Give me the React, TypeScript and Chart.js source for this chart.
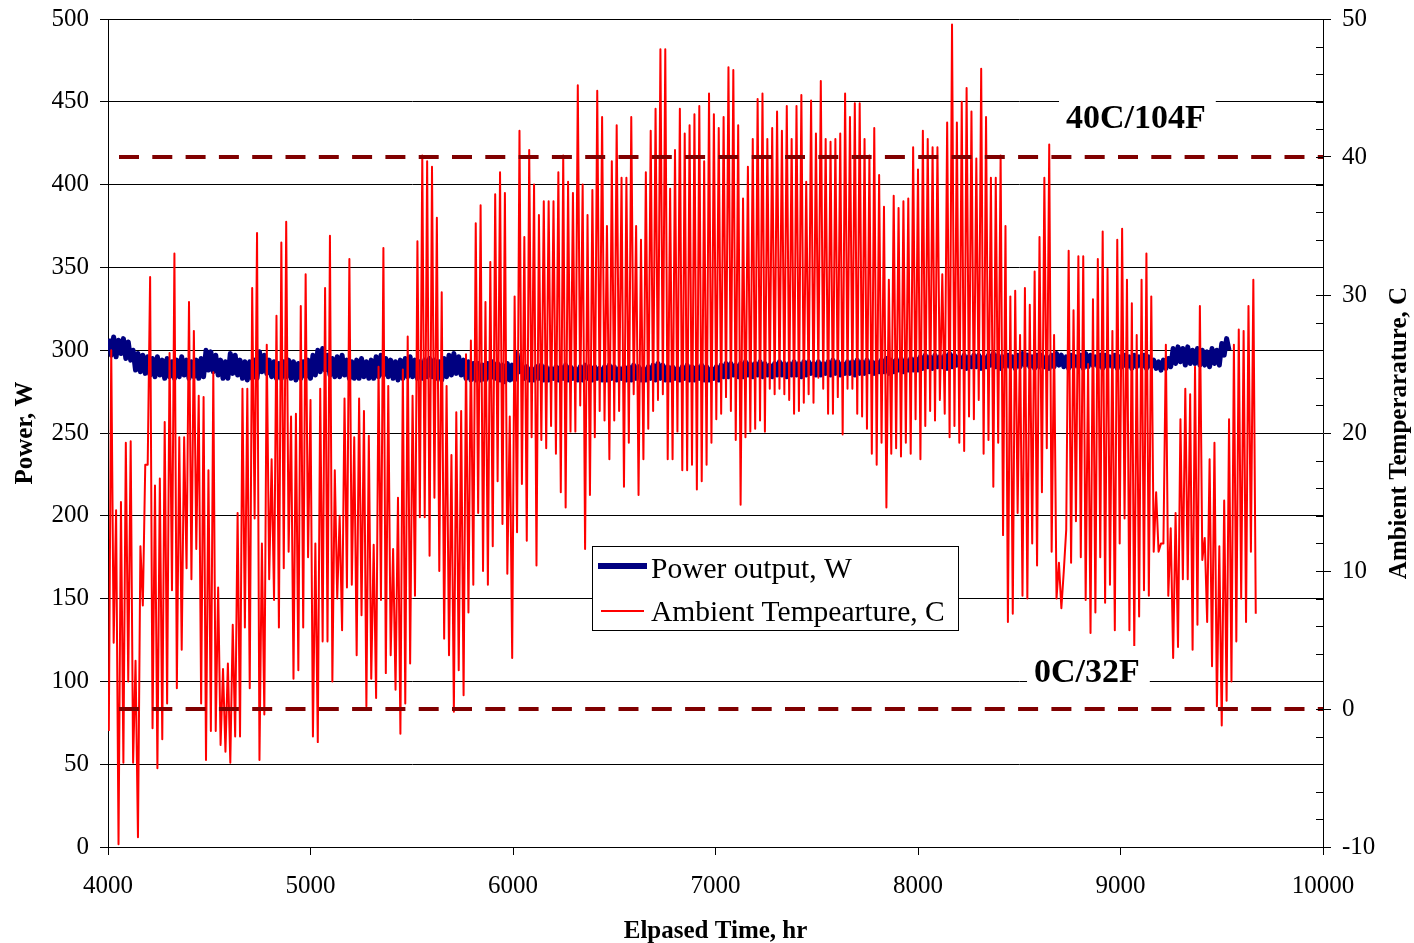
import React, { useEffect, useRef } from "react";
import { Chart, registerables } from "chart.js";

Chart.register(...registerables);

// ---------- data ----------
const xTickValues = [4000, 5000, 6000, 7000, 8000, 9000, 10000];
const powerTickStep = 50;
const tempTickStep = 10;
const startHour = 4000;

// daily minimum / maximum ambient temperature, C (one pair per day from 4000 hr)
const tempMin = [
  -1.6, 4.8, -9.8, -3.9, 2, -3.9, -9.3, 7.5, 17.7, -1.4,
  -4.3, -2.2, 0.4, 8.6, 1.5, 4.3, 10.2, 9.4, 11.6, 0.4,
  -3.7, -1.6, -1.6, -2.6, -3.1, -3.9, -2, -2, 5.9, 1.5,
  13.8, -3.7, -0.4, 9.4, 7.9, 5.9, 10.2, 11.4, 2.2, 2.8,
  5.9,
  11, -2, -2.4, 4.9, 4.9, 2, 8, 5.7, 8.8, 9,
  3.9, 6.8, 0.2, 2.2, 0.8, 7.9, 2.6, 3.9, 1.4, -1.8,
  0.4, 3.3, 8.2, 13.9, 13.9, 11.1, 15.3, 10, 5.1, 3.9,
  -0.2, 2.8, 1, 7, 9, 14.2, 10, 9, 11.8, 16.5,
  13.4,
  9.8, 3.7, 12.8, 16.3, 12.2, 19.7, 10.4, 19.5, 18.9, 20.5,
  18.5, 15.7, 14.6, 20.1, 20.1, 22, 11.6, 15.5, 19.7, 21.6,
  20.9, 18.1, 20.9, 21.6, 16.1, 19.3, 22.8, 15.5, 18.1, 20.3,
  21.6, 22.4, 22.8, 18.1, 18.1, 20.1, 17.3, 17.3, 17.7, 15.9,
  16.5,
  17.7, 19.3, 21, 21.4, 22.6, 21.6, 19.5, 14.8, 19.7, 20.1,
  20.3, 20.9, 20.1, 23.2, 22.8, 23.2, 22.8, 22.4, 21.4, 21.6,
  22.2, 22.8, 22.2, 24, 23.2, 21.4, 21.4, 22.6, 19.9, 23.2,
  23.2, 21.4, 21.2, 20.3, 18.5, 17.7, 19.3, 14.6, 18.5, 18.9,
  18.3,
  19.3, 18.5, 21, 18.1, 20.5, 21.6, 20.9, 22.4, 21.4, 19.7,
  20.5, 19.3, 18.7, 21.2, 21, 22.4, 18.5, 19.5, 16.1, 19.3,
  12.6, 6.3, 6.9, 14.2, 8.2, 8, 12, 10.4, 15.7, 18.9,
  11.4, 8, 7.3, 13, 10.6, 13.6, 11, 7.9, 5.5, 7,
  11,
  7.7, 9, 5.7, 12, 13.8, 5.7, 4.5, 6.7, 8.6, 8.2,
  11.4, 11.4, 12, 8.2, 3.7, 4.5, 9.4, 9.4, 4.3, 6.1,
  10.8, 6.3, 3.1, 0.2, -1.2, 0.6, 2, 4.9, 8, 6.3,
  11.4,
];
const tempMax = [
  26, 14.4, 15, 19.3, 19.4, 3.5, 11.8, 17.7, 31.3, 16.2,
  16.7, 20.8, 25.8, 33, 19.7, 19.7, 29.5, 27.4, 22.7, 22.6,
  17.3, 24.4, 8.8, 2.9, 3.3, 6.1, 14.2, 23.2, 23.2, 30.5,
  34.5, 12, 26.4, 18.1, 28.5, 33.8, 35.3, 21.2, 21.4, 29.2,
  31.5,
  22.4, 12, 23.2, 30.5, 34.3, 17.3, 14, 22.5, 32.6, 19.7,
  22.5, 21.6, 19.8, 11.9, 24.8, 33.4, 23.4, 11.6, 15.3, 24.6,
  27, 22.7, 33.9, 40.1, 39.7, 39.3, 35.6, 30.2, 23.4, 18.4,
  21.5, 21.6, 25.7, 26.7, 35.2, 36.5, 29.5, 32.4, 37.3, 38.9,
  37.4,
  21.2, 29.9, 41.9, 34.2, 40.5, 38, 35.8, 36.8, 36.8, 36.8,
  38.9, 40.1, 38.2, 37.4, 45.2, 38, 35.8, 37.6, 44.8, 42.9,
  35, 39.7, 42.3, 38.5, 38.5, 42.9, 35, 34, 38.9, 41.9,
  43.5, 47.8, 47.8, 37.7, 40.5, 43.5, 41.7, 42.3, 43.1, 43.7,
  39.7,
  44.6, 43.1, 42.1, 42.9, 46.5, 46.3, 42.3, 37, 39.3, 41.3,
  44.2, 44.6, 41.3, 42.1, 43.3, 41.9, 43.7, 41.3, 43.7, 44.5,
  38.2, 44.1, 41.7, 45.5, 41.3, 41.1, 41.3, 41.7, 44.6, 42.9,
  43.9, 43.9, 41.3, 40.1, 42.1, 38.7, 36.4, 31.1, 37.2, 36.3,
  36.8,
  37, 40.7, 39.1, 41.9, 41.3, 40.7, 40.7, 31.5, 42.5, 49.6,
  42.5, 44, 45, 43.3, 39.9, 46.4, 42.9, 38.5, 38.5, 40.1,
  35, 29.9, 30.3, 27.1, 30.5, 29.3, 31.7, 34.2, 38.5, 40.9,
  27.1, 10.6, 10, 33.2, 28.9, 32.8, 32.8, 25, 29.7, 32.6,
  34.6,
  31.9, 27.4, 34, 34.8, 31.1, 29.4, 27.1, 31.1, 33, 29.9,
  15.7, 12, 26.4, 13.1, 14.2, 21, 23.2, 22.8, 24.8, 29.2,
  12.4, 18.1, 19.3, 11.8, 15.1, 21, 26.4, 27.5, 27.4, 29.2,
  31.1,
];
const tempLast = 6.9;

// daily high / low of the power output, W (one pair per day from 4000 hr)
const powerHi = [
  307, 308, 306, 307, 305,
  300, 298, 297, 296,
  295, 296, 294, 295, 293, 294, 296, 294, 293, 294, 295,
  300, 299, 297,
  294, 293, 298, 297, 294, 293,
  293, 294, 299, 297,
  294, 293, 292, 293, 294, 293, 292, 293, 294,
  297, 300, 301, 297, 295, 296, 297, 294, 293,
  294, 295, 293, 294, 296, 297, 295, 294, 293, 294, 295, 296,
  294, 293, 294, 295, 294, 293, 295, 297, 298, 296, 294, 293, 292,
  292, 291, 292, 293, 292, 291, 292, 291,
  298, 291, 290, 289, 290, 291, 290, 289, 290, 290,
  291, 290, 289, 290, 291, 290, 290, 289, 290, 291,
  290, 289, 290, 290, 291, 290, 289, 290, 291, 292,
  291, 290, 290, 289, 290, 291, 290, 290, 291, 290,
  289, 290,
  291, 292, 292, 291, 292, 293, 292, 292, 293, 292,
  291, 292, 293, 292, 292, 293, 292, 293, 293, 292,
  293, 292, 293, 294, 293, 292, 293, 293, 294, 293,
  294, 293, 293, 294, 295, 294, 294, 295, 294, 295,
  295,
  296, 297, 296, 297, 296, 297, 298, 297, 296, 297,
  296, 297, 297, 296, 297, 298, 297, 296, 297, 296,
  297, 298, 297, 296, 297, 297, 296, 297, 298, 297,
  296, 297, 296, 297, 298, 297, 296, 297, 297, 296,
  297, 296,
  297, 296, 297, 296, 297, 296,
  294, 293, 294, 295,
  301, 302, 301, 302, 300, 301,
  300, 299, 301, 300,
  304, 307,
];
const powerLo = [
  297, 296, 298, 295, 294,
  288, 287, 286, 285,
  284, 285, 283, 284, 283, 284, 285, 283, 284, 283, 284,
  288, 287, 285,
  283, 283, 286, 285, 283, 282,
  283, 283, 287, 286,
  284, 283, 283, 284, 283, 282, 283, 284, 283,
  285, 287, 288, 285, 284, 284, 285, 283, 283,
  283, 284, 283, 283, 284, 285, 284, 283, 282, 283, 284, 284,
  283, 283, 284, 284, 283, 282, 284, 285, 286, 285, 283, 282, 282,
  282, 282, 283, 283, 282, 281, 282, 282,
  287, 283, 282, 282, 283, 282, 282, 283, 282, 283,
  282, 283, 282, 282, 283, 282, 283, 282, 282, 283,
  282, 283, 282, 282, 283, 282, 282, 283, 282, 283,
  282, 282, 283, 282, 283, 282, 282, 283, 282, 282,
  283, 282,
  284, 284, 285, 284, 284, 285, 284, 285, 284, 285,
  284, 285, 285, 284, 285, 285, 284, 285, 286, 285,
  285, 286, 285, 286, 285, 286, 286, 285, 286, 286,
  287, 286, 287, 287, 286, 287, 288, 287, 288, 288,
  288,
  289, 290, 289, 290, 290, 289, 290, 291, 290, 289,
  290, 290, 289, 290, 291, 290, 289, 290, 290, 289,
  290, 291, 290, 289, 290, 290, 289, 290, 291, 290,
  289, 290, 290, 289, 290, 291, 290, 289, 290, 290,
  289, 290,
  290, 289, 290, 290, 289, 290,
  289, 288, 289, 290,
  292, 293, 291, 292, 292, 291,
  291, 290, 292, 291,
  297, 300,
];

const refTemps = [40, 0];
const refLabels = ["40C/104F", "0C/32F"];
const legendLabels = ["Power output, W", "Ambient Tempearture, C"];
const axisTitles = { x: "Elpased Time, hr", y: "Power, W", y2: "Ambient Temperarature, C" };

// ---------- styles ----------
const SERIF = '"Liberation Serif", "Times New Roman", serif';
const NAVY = "#000080";
const RED = "#ff0000";
const DARKRED = "#800000";

function buildTemp() {
  const pts: { x: number; y: number }[] = [];
  for (let i = 0; i < tempMin.length; i++) {
    pts.push({ x: startHour + 24 * i + 4, y: tempMin[i] });
    pts.push({ x: startHour + 24 * i + 16, y: tempMax[i] });
  }
  pts.push({ x: startHour + 24 * tempMin.length + 4, y: tempLast });
  return pts;
}

function buildPower() {
  const pts: { x: number; y: number }[] = [];
  for (let i = 0; i < powerHi.length; i++) {
    pts.push({ x: startHour + 24 * i + 4, y: powerHi[i] });
    pts.push({ x: startHour + 24 * i + 16, y: powerLo[i] });
  }
  return pts;
}

const overlayPlugin = {
  id: "overlay",
  afterDraw(chart: any) {
    const ctx = chart.ctx as CanvasRenderingContext2D;
    const area = chart.chartArea;
    const xs = chart.scales.x;
    const y2 = chart.scales.y2;
    ctx.save();

    // right axis: minor ticks (inside)
    ctx.strokeStyle = "#000";
    ctx.lineWidth = 1;
    for (let t = y2.min; t <= y2.max; t += 2) {
      const py = Math.round(y2.getPixelForValue(t)) + 0.5;
      ctx.beginPath();
      ctx.moveTo(area.right - 7, py);
      ctx.lineTo(area.right, py);
      ctx.stroke();
    }

    // reference labels with white background
    ctx.font = `bold 34px ${SERIF}`;
    ctx.textBaseline = "alphabetic";
    ctx.textAlign = "left";
    const labelPos = [
      { hx: 8731, dy: -29 },
      { hx: 8573, dy: -27 },
    ];
    refLabels.forEach((txt, i) => {
      const px = xs.getPixelForValue(labelPos[i].hx);
      const base = y2.getPixelForValue(refTemps[i]) + labelPos[i].dy;
      const w = ctx.measureText(txt).width;
      ctx.fillStyle = "#fff";
      ctx.fillRect(px - 7, base - 36, w + 17, 45);
      ctx.fillStyle = "#000";
      ctx.fillText(txt, px, base);
    });

    // legend
    const lx = 592.5, ly = 546.5, lw = 366, lh = 84;
    ctx.fillStyle = "#fff";
    ctx.fillRect(lx, ly, lw, lh);
    ctx.strokeStyle = "#000";
    ctx.lineWidth = 1;
    ctx.strokeRect(lx, ly, lw, lh);
    ctx.strokeStyle = NAVY;
    ctx.lineWidth = 6;
    ctx.beginPath();
    ctx.moveTo(598, 566);
    ctx.lineTo(647, 566);
    ctx.stroke();
    ctx.strokeStyle = RED;
    ctx.lineWidth = 2;
    ctx.beginPath();
    ctx.moveTo(601, 611);
    ctx.lineTo(644, 611);
    ctx.stroke();
    ctx.fillStyle = "#000";
    ctx.font = `29.5px ${SERIF}`;
    ctx.fillText(legendLabels[0], 651, 578);
    ctx.fillText(legendLabels[1], 651, 621);

    // axis titles
    ctx.font = `bold 25px ${SERIF}`;
    ctx.textAlign = "center";
    ctx.textBaseline = "alphabetic";
    ctx.fillText(axisTitles.x, (area.left + area.right) / 2, 938);
    const cy = (area.top + area.bottom) / 2;
    ctx.textBaseline = "middle";
    ctx.save();
    ctx.translate(26, cy);
    ctx.rotate(-Math.PI / 2);
    ctx.fillText(axisTitles.y, 0, 0);
    ctx.restore();
    ctx.save();
    ctx.translate(1400, cy);
    ctx.rotate(-Math.PI / 2);
    ctx.fillText(axisTitles.y2, 0, 0);
    ctx.restore();

    ctx.restore();
  },
};

export default function App() {
  const ref = useRef<HTMLCanvasElement | null>(null);

  useEffect(() => {
    if (!ref.current) return;
    const tickFont = { family: SERIF, size: 25 };
    const refData = (t: number) => [
      { x: xTickValues[0], y: t },
      { x: xTickValues[xTickValues.length - 1], y: t },
    ];
    const vFit = (w: number) => (s: any) => {
      s.width = w;
      s.paddingTop = 0;
      s.paddingBottom = 0;
    };
    const chart = new Chart(ref.current, {
      type: "line",
      data: {
        datasets: [
          ...refTemps.map((t, i) => ({
            label: refLabels[i],
            data: refData(t),
            yAxisID: "y2",
            borderColor: DARKRED,
            borderWidth: 4,
            borderDash: [20, 13.3],
            borderDashOffset: 22.3,
            pointRadius: 0,
            fill: false,
            order: 0,
          })),
          {
            label: legendLabels[1],
            data: buildTemp(),
            yAxisID: "y2",
            borderColor: RED,
            borderWidth: 2,
            borderJoinStyle: "round",
            pointRadius: 0,
            tension: 0,
            fill: false,
            order: 1,
          },
          {
            label: legendLabels[0],
            data: buildPower(),
            yAxisID: "y",
            borderColor: NAVY,
            borderWidth: 5,
            borderJoinStyle: "round",
            pointRadius: 0,
            tension: 0,
            fill: false,
            order: 2,
          },
        ] as any,
      },
      options: {
        responsive: false,
        animation: false,
        devicePixelRatio: 1,
        parsing: false,
        normalized: true,
        layout: { padding: { top: 19, left: 0, right: 0, bottom: 0 } },
        plugins: {
          legend: { display: false },
          tooltip: { enabled: false },
          title: { display: false },
        },
        events: [],
        scales: {
          x: {
            type: "linear",
            position: "bottom",
            min: xTickValues[0],
            max: xTickValues[xTickValues.length - 1],
            afterBuildTicks: (s: any) => {
              s.ticks = xTickValues.map((v) => ({ value: v }));
            },
            ticks: {
              font: tickFont,
              color: "#000",
              padding: 16,
              maxRotation: 0,
              autoSkip: false,
              callback: (v: any) => String(v),
            },
            grid: { drawOnChartArea: false, tickLength: 8, color: "#000", lineWidth: 1 },
            border: { display: true, color: "#000", width: 1 },
            afterFit: (s: any) => {
              s.height = 96;
              s.paddingLeft = 0;
              s.paddingRight = 0;
            },
          },
          y: {
            type: "linear",
            position: "left",
            min: 0,
            max: 500,
            ticks: {
              stepSize: powerTickStep,
              font: tickFont,
              color: "#000",
              padding: 11,
              callback: (v: any) => String(v),
            },
            grid: { color: "#000", lineWidth: 1, tickLength: 8 },
            border: { display: true, color: "#000", width: 1 },
            afterFit: vFit(108),
          },
          y2: {
            type: "linear",
            position: "right",
            min: -10,
            max: 50,
            ticks: {
              stepSize: tempTickStep,
              font: tickFont,
              color: "#000",
              padding: 11,
              callback: (v: any) => String(v),
            },
            grid: { drawOnChartArea: false, tickLength: 8, color: "#000", lineWidth: 1 },
            border: { display: true, color: "#000", width: 1 },
            afterFit: vFit(91),
          },
        },
      } as any,
      plugins: [overlayPlugin],
    });
    return () => chart.destroy();
  }, []);

  return (
    <div style={{ position: "fixed", left: 0, top: 0, width: 1414, height: 943, background: "#fff" }}>
      <canvas ref={ref} width={1414} height={943} style={{ width: 1414, height: 943, display: "block" }} />
    </div>
  );
}
